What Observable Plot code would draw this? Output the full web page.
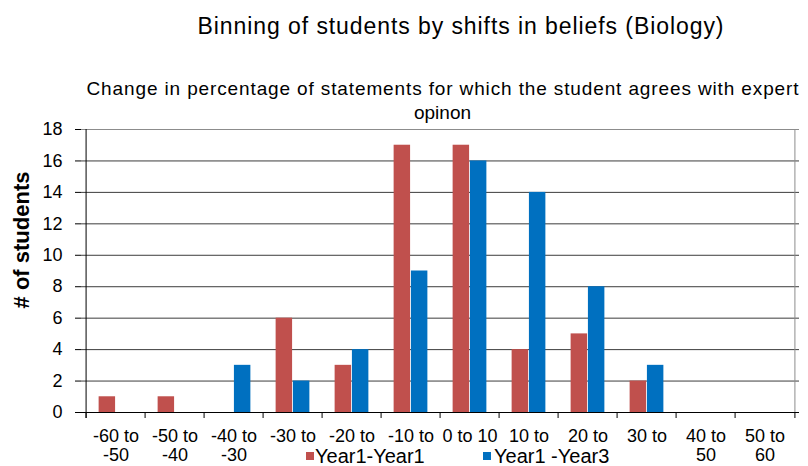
<!DOCTYPE html>
<html><head><meta charset="utf-8">
<script src="https://cdn.jsdelivr.net/npm/d3@7"></script>
<script src="https://cdn.jsdelivr.net/npm/@observablehq/plot@0.6"></script>
<style>
body{margin:0;background:#fff;font-family:"Liberation Sans",Arial,sans-serif;}
#wrap{position:relative;width:808px;height:466px;overflow:hidden;}
#legend{position:absolute;left:268px;top:446px;width:414px;height:20px;background:#fff;}
.sw{position:absolute;width:8px;height:8px;top:6px;}
.lt{position:absolute;top:0;font-size:20px;line-height:20px;color:#000;white-space:nowrap;}
</style></head><body><div id="wrap"></div>
<script>
const title = "Binning of students by shifts in beliefs (Biology)";
const subtitle = "Change in percentage of statements for which the student agrees with expert\nopinon";
const yLabel = "# of students";
const categories = ["-60 to -50","-50 to -40","-40 to -30","-30 to -20","-20 to -10","-10 to 0","0 to 10","10 to 20","20 to 30","30 to 40","40 to 50","50 to 60"];
// tick labels as they are visible in the reference (second lines of the middle bins sit under the legend)
const tickLabels = ["-60 to\n-50","-50 to\n-40","-40 to\n-30","-30 to","-20 to","-10 to","0 to 10","10 to","20 to","30 to","40 to\n50","50 to\n60"];
const seriesNames = ["Year1-Year1","Year1 -Year3"];
const year1Year1 = [1,1,0,6,3,17,17,4,5,2,0,0];
const year1Year3 = [0,0,3,2,4,9,16,14,8,3,0,0];
const yTicks = [0,2,4,6,8,10,12,14,16,18];
const colors = ["#C0504D","#0070C0"];

const W = 808, H = 466, mL = 81, mR = 9, mT = 129, mB = 54;
const bw = (W - mL - mR) / categories.length;
const barW = bw * 0.289;

const red = categories.map((c,i)=>({category:c, value:year1Year1[i]}));
const blue = categories.map((c,i)=>({category:c, value:year1Year3[i]}));

const chart = Plot.plot({
  width: W, height: H,
  marginLeft: mL, marginRight: mR, marginTop: mT, marginBottom: mB,
  style: {fontFamily: '"Liberation Sans", Arial, sans-serif', background: "#fff", color: "#000"},
  x: {domain: categories, padding: 0},
  y: {domain: [0, 18]},
  marks: [
    Plot.ruleY(yTicks.filter(v => v > 0 && v < 18), {stroke: "#3c3c3c", strokeWidth: 1}),
    Plot.ruleY([18], {stroke: "#8c8c8c"}),
    Plot.ruleX([categories[categories.length-1]], {dx: bw/2, y1: 0, y2: 18, stroke: "#8c8c8c"}),
    Plot.barY(red, {x: "category", y: "value", fill: colors[0], insetLeft: bw/2 - barW, insetRight: bw/2}),
    Plot.barY(blue, {x: "category", y: "value", fill: colors[1], insetLeft: bw/2, insetRight: bw/2 - barW}),
    Plot.ruleY([0], {stroke: "#000"}),
    Plot.ruleX(categories, {x: d => d, dx: -bw/2, y1: 0, y2: 0, insetBottom: -6, stroke: "#000"}),
    Plot.ruleX([categories[categories.length-1]], {x: d => d, dx: bw/2, y1: 0, y2: 0, insetBottom: -6, stroke: "#000"}),
    Plot.ruleX([categories[0]], {x: d => d, dx: -bw/2, y1: 0, y2: 18, insetTop: 6, stroke: "#000"}),
    Plot.axisY({ticks: yTicks, tickSize: 6, tickPadding: 13, fontSize: 18, label: null, stroke: "#000"}),
    Plot.axisX({tickSize: 0, tickPadding: 16, fontSize: 18, lineHeight: 1.06, label: null,
      tickFormat: d => tickLabels[categories.indexOf(d)]}),
    Plot.text([title], {text: d => d, frameAnchor: "top", lineAnchor: "middle", dx: 20, dy: -103, fontSize: 23}),
    Plot.text([subtitle], {text: d => d, frameAnchor: "top", lineAnchor: "middle", dx: 2, dy: -30, fontSize: 19, lineHeight: 1.25}),
    Plot.text([yLabel], {text: d => d, frameAnchor: "left", textAnchor: "middle", lineAnchor: "middle", rotate: -90, dx: -60, dy: -31, fontSize: 22, fontWeight: "bold"})
  ]
});
const wrap = document.getElementById("wrap");
wrap.appendChild(chart);

// stretch title and first subtitle line to the reference text widths
chart.querySelectorAll("text").forEach(t => {
  if (t.textContent === title) { t.setAttribute("textLength", 526); }
});
chart.querySelectorAll("tspan").forEach(t => {
  if (t.textContent === subtitle.split("\n")[0]) { t.setAttribute("textLength", 712); }
});

const legend = document.createElement("div");
legend.id = "legend";
const items = [{x: 38, tx: 47}, {x: 215, tx: 226}];
seriesNames.forEach((name, i) => {
  const sw = document.createElement("div");
  sw.className = "sw"; sw.style.left = items[i].x + "px"; sw.style.background = colors[i];
  const t = document.createElement("div");
  t.className = "lt"; t.style.left = items[i].tx + "px"; t.textContent = name;
  legend.appendChild(sw); legend.appendChild(t);
});
wrap.appendChild(legend);
</script></body></html>
